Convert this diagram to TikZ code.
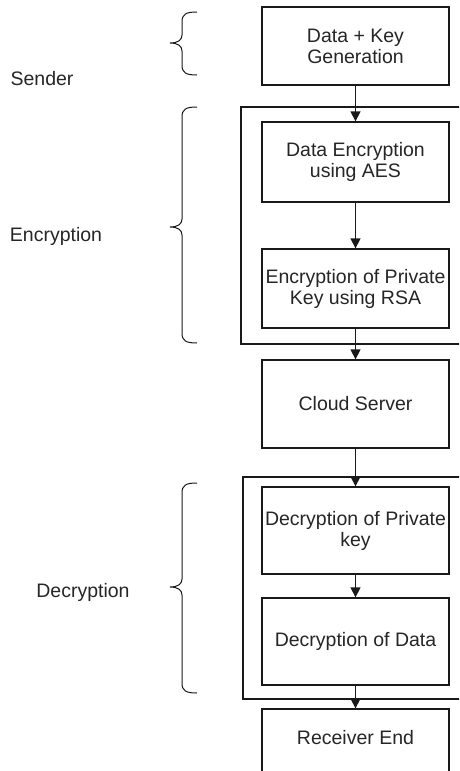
\documentclass[tikz,border=0pt]{standalone}
\usepackage{fontspec}
\setmainfont{Liberation Sans}
\usetikzlibrary{arrows.meta}
\tikzset{
  stagebox/.style={draw=black!90, line width=1.3pt, minimum width=187pt, inner sep=0pt, align=center, font=\fontsize{19.5}{21}\selectfont, text=black!85},
  groupframe/.style={draw=black!90, line width=1.3pt},
  flow/.style={draw=black!90, line width=1.3pt, -{Triangle[width=10pt,length=10pt]}},
  bracepath/.style={draw=black!90, line width=1pt},
  sidelabel/.style={font=\fontsize{19.5}{21}\selectfont, text=black!85, inner sep=0pt}
}
\begin{document}
\begin{tikzpicture}[x=1pt,y=-1pt]
\useasboundingbox (0,0) rectangle (459,771);
\clip (0,0) rectangle (459,771);
\fill[white] (0,0) rectangle (459,771);

% group frames
\draw[groupframe] (475,107) -- (241,107) -- (241,344) -- (475,344);
\draw[groupframe] (475,477) -- (243,477) -- (243,699) -- (475,699);

% boxes
\node[stagebox, minimum height=78pt, fill=white] (gen) at (355.5,46) {Data + Key\\Generation};
\node[stagebox, minimum height=80pt, fill=white] (aes) at (355.5,162) {Data Encryption\\using AES};
\node[stagebox, minimum height=79pt, fill=white] (rsa) at (355.5,288.5) {Encryption of Private\\Key using RSA};
\node[stagebox, minimum height=88pt, fill=white] (cloud) at (355.5,404) {Cloud Server};
\node[stagebox, minimum height=87pt, fill=white] (dkey) at (355.5,530.5) {Decryption of Private\\key};
\node[stagebox, minimum height=87pt, fill=white] (ddata) at (355.5,641.5) {Decryption of Data};
\node[stagebox, minimum height=87pt, fill=white] (recv) at (355.5,752.5) {};
\node[sidelabel] (recvtext) at (355.5,738) {Receiver End};

% connectors
\draw[flow] (gen) -- (aes);
\draw[flow] (aes) -- (rsa);
\draw[flow] (rsa) -- (cloud);
\draw[flow] (cloud) -- (dkey);
\draw[flow] (dkey) -- (ddata);
\draw[flow] (ddata) -- (recv);

% braces
\draw[bracepath] (197,12) .. controls (186,12) and (182,14) .. (182,22) -- (182,35) .. controls (182,40) and (178,43) .. (170,43) .. controls (178,43) and (182,46) .. (182,51) -- (182,65) .. controls (182,73) and (186,75) .. (197,75);
\draw[bracepath] (197,107) .. controls (186,107) and (182,109) .. (182,117) -- (182,219) .. controls (182,224) and (178,227) .. (170,227) .. controls (178,227) and (182,230) .. (182,235) -- (182,333) .. controls (182,341) and (186,343) .. (197,343);
\draw[bracepath] (197,483) .. controls (186,483) and (182,485) .. (182,493) -- (182,579) .. controls (182,584) and (178,587) .. (170,587) .. controls (178,587) and (182,590) .. (182,595) -- (182,683) .. controls (182,691) and (186,693) .. (197,693);

% side labels
\node[sidelabel] (sender) at (42,79) {Sender};
\node[sidelabel] (enc) at (56,236) {Encryption};
\node[sidelabel] (dec) at (83,592) {Decryption};
\end{tikzpicture}
\end{document}
